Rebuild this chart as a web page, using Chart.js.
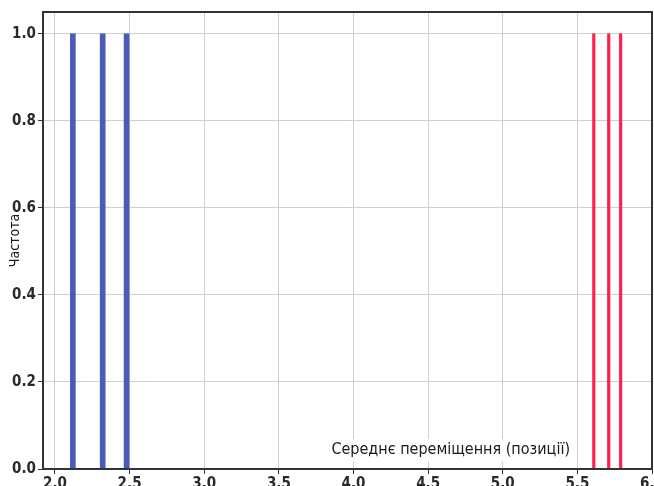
<!DOCTYPE html>
<html>
<head>
<meta charset="utf-8">
<script src="https://cdn.jsdelivr.net/npm/chart.js@4/dist/chart.umd.min.js"></script>
<style>
html,body{margin:0;padding:0;background:#fff;overflow:hidden;width:654px;height:486px;}
canvas{display:block;}
</style>
</head>
<body>
<canvas id="c" width="654" height="500"></canvas>
<script>
const blueX = [2.12, 2.32, 2.48];
const blueY = [1, 1, 1];
const redX = [5.61, 5.71, 5.79];
const redY = [1, 1, 1];
const xTicks = [2.0, 2.5, 3.0, 3.5, 4.0, 4.5, 5.0, 5.5, 6.0];
const yTicks = [0.0, 0.2, 0.4, 0.6, 0.8, 1.0];
const xTitle = 'Середнє переміщення (позиції)';
const yTitle = 'Частота';

const narrow = "'DejaVu Sans Condensed', 'DejaVu Sans', sans-serif";
const tickFont = {family: narrow, size: 15, weight: 'bold'};

const framePlugin = {
  id: 'frame',
  afterDatasetsDraw(chart) {
    const {ctx, chartArea: a} = chart;
    ctx.save();
    ctx.font = "16px " + narrow;
    ctx.textBaseline = 'middle';
    ctx.textAlign = 'right';
    const w = ctx.measureText(xTitle).width;
    const rx = a.right - 82, cy = a.bottom - 19;
    ctx.fillStyle = '#fff';
    ctx.fillRect(rx - w - 4, cy - 11, w + 8, 22);
    ctx.fillStyle = '#1a1a1a';
    ctx.fillText(xTitle, rx, cy);
    ctx.strokeStyle = '#333';
    ctx.lineWidth = 2;
    ctx.strokeRect(a.left, a.top, a.right - a.left, a.bottom - a.top);
    ctx.restore();
  }
};

new Chart(document.getElementById('c'), {
  type: 'bar',
  data: {
    datasets: [
      {
        data: blueX.map((x, i) => ({x, y: blueY[i]})),
        backgroundColor: '#4b5bb6',
        borderWidth: 0,
        barThickness: 5,
        grouped: false
      },
      {
        data: redX.map((x, i) => ({x, y: redY[i]})),
        backgroundColor: '#ff1f4f',
        borderWidth: 0,
        barThickness: 2.5,
        grouped: false
      }
    ]
  },
  options: {
    responsive: false,
    animation: false,
    devicePixelRatio: 1,
    layout: {padding: {left: 0, top: 12, right: 2, bottom: 0}},
    plugins: {legend: {display: false}, tooltip: {enabled: false}},
    scales: {
      x: {
        type: 'linear',
        offset: false,
        min: 1.92,
        max: 6.0,
        afterBuildTicks: s => { s.ticks = xTicks.map(v => ({value: v})); },
        afterFit: s => { s.height = 31; s.paddingLeft = 0; s.paddingRight = 0; },
        grid: {offset: false, color: '#cfcfcf', lineWidth: 1, drawTicks: true, tickLength: 5, tickColor: '#333'},
        border: {display: false},
        ticks: {font: tickFont, color: '#2a2a2a', padding: 1, maxRotation: 0, autoSkip: false,
          callback: v => Number(v).toFixed(1)}
      },
      y: {
        min: 0,
        max: 1.05,
        afterBuildTicks: s => { s.ticks = yTicks.map(v => ({value: v})); },
        afterFit: s => { s.width = 43; s.paddingTop = 0; s.paddingBottom = 0; },
        grid: {color: '#cfcfcf', lineWidth: 1, drawTicks: true, tickLength: 5, tickColor: '#333'},
        border: {display: false},
        title: {display: true, text: yTitle, color: '#1a1a1a', padding: {top: 7, bottom: 0},
          font: {family: narrow, size: 14, weight: 'normal'}},
        ticks: {font: tickFont, color: '#2a2a2a', padding: 2,
          callback: v => Number(v).toFixed(1)}
      }
    }
  },
  plugins: [framePlugin]
});
</script>
</body>
</html>
